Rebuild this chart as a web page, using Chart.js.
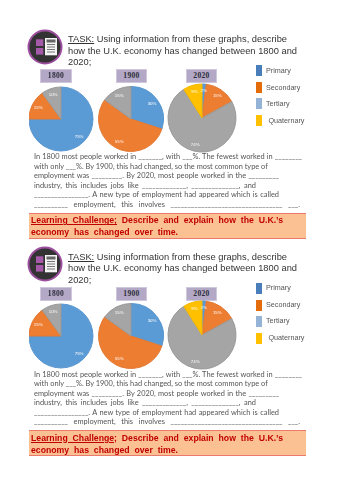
<!DOCTYPE html>
<html>
<head>
<meta charset="utf-8">
<script src="https://cdn.jsdelivr.net/npm/chart.js@4"></script>
<style>
  html, body { margin: 0; padding: 0; background: #fff; }
  #page { position: relative; width: 353px; height: 500px; overflow: hidden; filter: blur(0.4px); }
  .abs { position: absolute; white-space: nowrap; }
  .task { font: 9.3px/11.6px "Liberation Sans", Arial, sans-serif; color: #333; text-align-last: justify; }
  .para { font: 7.4px/9.4px Lato, sans-serif; color: #555; text-align-last: justify; }
  .pill { background: #b3a8c6; border: 1px solid #cfc8dc; box-sizing: border-box; text-align: center; font: bold 7.6px/12px "Liberation Serif", serif; color: #2c2c38; letter-spacing: .3px; }
  .legend { font: 7.2px/10px "Liberation Sans", Arial, sans-serif; color: #555; }
  .box { background: #fbc193; border-top: 1px solid #ea7a6c; border-bottom: 1px solid #ea7a6c; box-sizing: border-box; }
  .challenge { font: bold 8.7px/12px "Liberation Sans", Arial, sans-serif; color: #c00000; text-align-last: justify; }
  .clip { position: absolute; overflow: hidden; }
  canvas { position: absolute; }
</style>
</head>
<body>
<div id="page"></div>
<script>
const years = ['1800', '1900', '2020'];
const sectors = ['Primary', 'Secondary', 'Tertiary', 'Quaternary'];
const shares1800 = [75, 15, 10, 0];
const shares1900 = [30, 55, 15, 0];
const shares2020 = [2, 15, 74, 9];
const allShares = [shares1800, shares1900, shares2020];

const sliceColors = ['#5b9bd5', '#ed7d31', '#a5a5a5', '#ffc000'];
const edgeColors = ['#5a97cf', '#e27a35', '#999999', '#f5b800'];
const legendColors = ['#4a7ebb', '#e46c0a', '#95b3d7', '#ffc000'];

const taskLines = [
  ['<u>TASK:</u> Using information from these graphs, describe', 68, 219],
  ['how the U.K. economy has changed between 1800 and', 68, 229],
  ['2020;', 68, 22]
];
const paraLines = [
  ['In 1800 most people worked in _______, with ___%. The fewest worked in ________', 268],
  ['with only ___%. By 1900, this had changed, so the most common type of', 230],
  ['employment was _________. By 2020, most people worked in the _________', 245],
  ['industry, this includes jobs like _____________, ______________, and', 222],
  ['________________. A new type of employment had appeared which is called', 245],
  ['__________ employment, this involves _________________________________ ___.', 266]
];

const page = document.getElementById('page');

function addEl(cls, html, style) {
  const el = document.createElement('div');
  el.className = cls;
  el.innerHTML = html;
  Object.assign(el.style, style);
  page.appendChild(el);
  return el;
}

const sliceLabels = {
  id: 'sliceLabels',
  afterDatasetsDraw(chart) {
    const ctx = chart.ctx;
    const values = chart.data.datasets[0].data;
    ctx.save();
    ctx.font = '4.4px "Liberation Sans", Arial, sans-serif';
    ctx.fillStyle = '#fff';
    ctx.textAlign = 'center';
    ctx.textBaseline = 'middle';
    chart.getDatasetMeta(0).data.forEach((arc, i) => {
      if (!values[i]) return;
      const mid = (arc.startAngle + arc.endAngle) / 2;
      const r = arc.outerRadius * 0.8;
      ctx.fillText(values[i] + '%', arc.x + Math.cos(mid) * r, arc.y + Math.sin(mid) * r);
    });
    ctx.restore();
  }
};

function drawIcon(top) {
  const svg = `<svg width="38" height="38" viewBox="0 0 38 38">
    <circle cx="19" cy="19" r="16.5" fill="#333" stroke="#9c4f9f" stroke-width="2"/>
    <rect x="10" y="11.3" width="7.3" height="6.7" fill="#a45aa8"/>
    <rect x="10" y="20" width="7.3" height="6.6" fill="#a45aa8"/>
    <rect x="19" y="10" width="12" height="17.3" fill="#f4f4f4"/>
    <rect x="20.5" y="11.5" width="9" height="3" fill="#666"/>
    <path d="M21 16.5h8M21 19h8M21 21.5h8M21 24h8" stroke="#777" stroke-width="1.2"/>
  </svg>`;
  addEl('abs', svg, { left: '26px', top: (top + 27.7) + 'px', lineHeight: 0 });
}

function drawPie(left, top, size, radius, shares, clipLeft) {
  // wrapper clips the 1800 pie on its left side, like the source
  const wrap = addEl('clip', '', {
    left: (left + clipLeft) + 'px', top: top + 'px',
    width: (size - clipLeft) + 'px', height: size + 'px'
  });
  const canvas = document.createElement('canvas');
  canvas.width = size;
  canvas.height = size;
  canvas.style.left = -clipLeft + 'px';
  wrap.appendChild(canvas);
  new Chart(canvas, {
    type: 'pie',
    data: {
      labels: sectors,
      datasets: [{ data: shares, backgroundColor: sliceColors, borderColor: edgeColors, borderWidth: 1 }]
    },
    options: {
      responsive: false,
      animation: false,
      radius: radius,
      plugins: { legend: { display: false }, tooltip: { enabled: false } }
    },
    plugins: [sliceLabels]
  });
}

function drawBlock(top) {
  drawIcon(top);

  taskLines.forEach(([text, x, w], i) => {
    addEl('abs task', text, { left: x + 'px', top: (top + 34.2 + i * 11.6) + 'px', width: w + 'px' });
  });

  const pillX = [40, 116, 186];
  const pillW = [32, 31, 31];
  const centerX = [61, 130.7, 201.7];
  const centerY = [118.7, 118.5, 117.7];
  const radii = [32, 32.5, 34];
  years.forEach((year, i) => {
    addEl('abs pill', year, { left: pillX[i] + 'px', top: (top + 69) + 'px', width: pillW[i] + 'px', height: '14px' });
    const size = 80;
    drawPie(centerX[i] - size / 2, top + centerY[i] - size / 2, size, radii[i], allShares[i], i === 0 ? 7.5 : 0);
  });

  const legendY = [65, 82, 98, 115];
  const legendX = [266, 266, 266, 268.5];
  sectors.forEach((name, i) => {
    addEl('abs', '', { left: '256px', top: (top + legendY[i]) + 'px', width: '6px', height: '11px', background: legendColors[i] });
    addEl('abs legend', name, { left: legendX[i] + 'px', top: (top + legendY[i] + 0.5) + 'px' });
  });

  paraLines.forEach(([text, w], i) => {
    addEl('abs para', text, { left: '34px', top: (top + 152.3 + i * 9.45) + 'px', width: w + 'px' });
  });

  addEl('abs box', '', { left: '28.5px', top: (top + 212.7) + 'px', width: '277.5px', height: '26px' });
  addEl('abs challenge', '<u>Learning Challenge;</u> Describe and explain how the U.K.’s', { left: '31px', top: (top + 214.3) + 'px', width: '252px' });
  addEl('abs challenge', 'economy has changed over time.', { left: '31px', top: (top + 226) + 'px', width: '147px' });
}

drawBlock(0);
drawBlock(217.5);
</script>
</body>
</html>
